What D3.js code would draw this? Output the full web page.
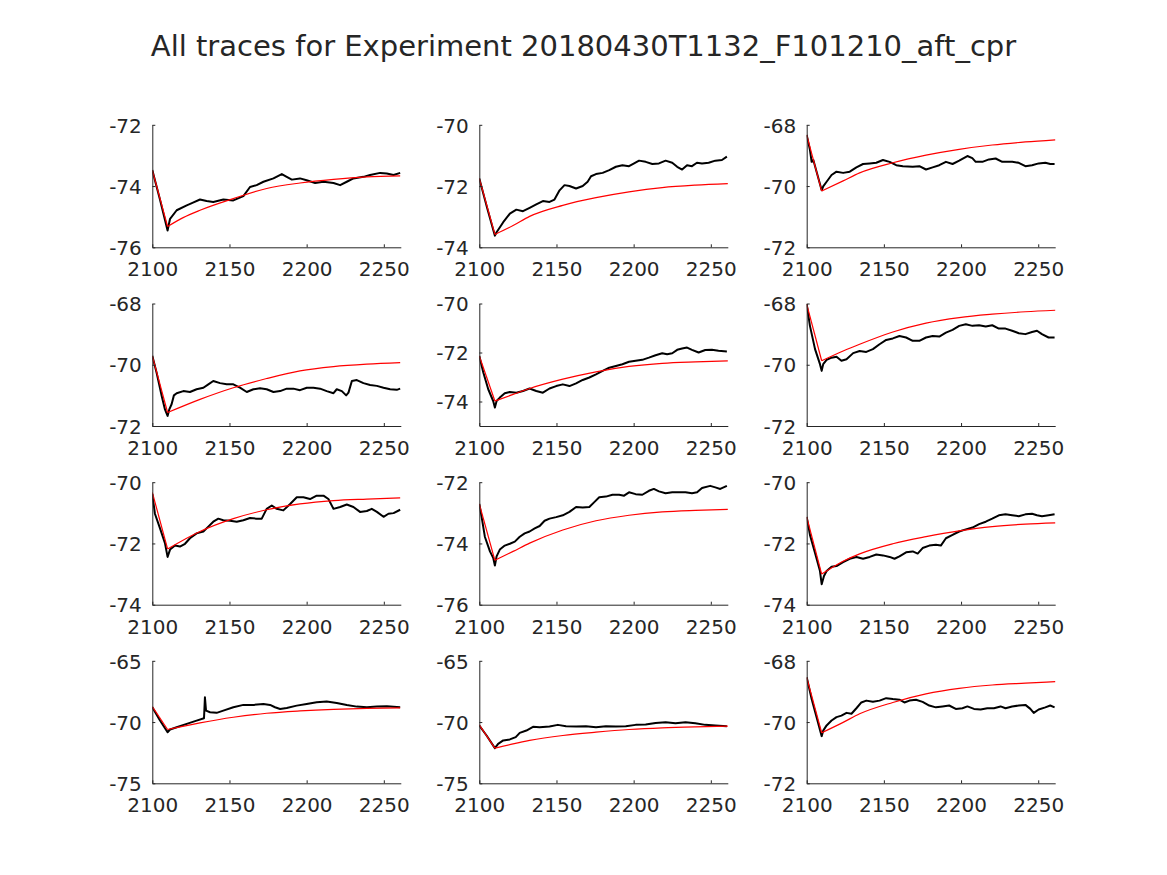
<!DOCTYPE html>
<html>
<head>
<meta charset="utf-8">
<script src="https://cdn.jsdelivr.net/npm/d3@7"></script>
<style>
  html, body { margin: 0; padding: 0; background: #fff; }
  svg { display: block; }
  text { font-family: "DejaVu Sans", sans-serif; fill: #262626; }
</style>
</head>
<body>
<script>
// ---------------- data ----------------
const chartTitle = "All traces for Experiment 20180430T1132_F101210_aft_cpr";
const xDomain = [2100, 2261];
const xTicks = [2100, 2150, 2200, 2250];

const yDomains = [
  [-76, -72], [-74, -70], [-72, -68],
  [-72, -68], [-75, -70], [-72, -68],
  [-74, -70], [-76, -72], [-74, -70],
  [-75, -65], [-75, -65], [-72, -68]
];
const yTicks = [
  [-76, -74, -72], [-74, -72, -70], [-72, -70, -68],
  [-72, -70, -68], [-74, -72, -70], [-72, -70, -68],
  [-74, -72, -70], [-76, -74, -72], [-74, -72, -70],
  [-75, -70, -65], [-75, -70, -65], [-72, -70, -68]
];

// measured traces (black)
const trace1 = [[2100,-73.48],[2105,-74.45],[2109.9,-75.45],[2111.5,-75.07],[2115.8,-74.79],[2122.3,-74.63],[2126,-74.55],[2130.9,-74.44],[2135.2,-74.49],[2139.5,-74.52],[2146,-74.44],[2152.5,-74.47],[2159,-74.33],[2163.3,-74.03],[2167.6,-73.97],[2172,-73.86],[2178.5,-73.75],[2183.9,-73.61],[2187.1,-73.70],[2190.4,-73.79],[2195.7,-73.75],[2200,-73.81],[2205.5,-73.90],[2210.9,-73.86],[2217.4,-73.90],[2221.7,-73.97],[2226,-73.86],[2230.3,-73.75],[2236.8,-73.70],[2241.1,-73.64],[2247.6,-73.57],[2251.9,-73.59],[2256.3,-73.64],[2260.6,-73.57]];
const trace2 = [[2100,-71.75],[2105,-72.70],[2110.1,-73.62],[2111.2,-73.51],[2115.5,-73.18],[2119.8,-72.90],[2124,-72.77],[2128.3,-72.82],[2132.6,-72.71],[2136.9,-72.60],[2141.2,-72.49],[2145.5,-72.52],[2148.7,-72.44],[2152,-72.14],[2155.2,-71.97],[2158.4,-72.00],[2162.7,-72.08],[2167,-72.00],[2170.2,-71.86],[2172.4,-71.68],[2175.6,-71.61],[2179.9,-71.57],[2184.2,-71.48],[2188.5,-71.37],[2192.7,-71.32],[2197,-71.35],[2200.3,-71.26],[2203.5,-71.17],[2207.8,-71.21],[2212.1,-71.28],[2216.4,-71.26],[2220.7,-71.17],[2225,-71.24],[2228.2,-71.37],[2231.4,-71.46],[2234.6,-71.32],[2237.8,-71.35],[2241,-71.24],[2244.3,-71.26],[2248.6,-71.24],[2252.9,-71.17],[2257.2,-71.15],[2260.4,-71.04]];
const trace3 = [[2100,-68.33],[2102.1,-68.82],[2103.2,-69.21],[2104.3,-69.15],[2106.4,-69.53],[2109.7,-70.14],[2110.7,-70.01],[2112.9,-69.86],[2116.1,-69.64],[2119.3,-69.53],[2123.6,-69.57],[2127.9,-69.53],[2132.2,-69.39],[2136.5,-69.28],[2140.8,-69.26],[2145.1,-69.24],[2149.4,-69.15],[2153.7,-69.21],[2158,-69.32],[2162.3,-69.35],[2168.7,-69.37],[2173,-69.35],[2177.3,-69.46],[2181.6,-69.39],[2185.9,-69.32],[2190.2,-69.21],[2194.5,-69.28],[2198.8,-69.17],[2204.1,-69.02],[2207.3,-69.09],[2209.5,-69.21],[2213.8,-69.21],[2218.1,-69.13],[2222.4,-69.10],[2226.7,-69.21],[2233.2,-69.21],[2237.4,-69.24],[2241.7,-69.35],[2246,-69.32],[2250.3,-69.26],[2254.6,-69.24],[2257.8,-69.28],[2260.6,-69.28]];
const trace4 = [[2100,-69.71],[2102.8,-70.26],[2106.1,-71.02],[2108.2,-71.46],[2109.9,-71.67],[2111,-71.46],[2112.5,-71.29],[2114,-71.00],[2115.8,-70.93],[2120.1,-70.86],[2124.4,-70.89],[2128.7,-70.80],[2133.1,-70.75],[2136.3,-70.64],[2139.5,-70.53],[2143.9,-70.60],[2148.2,-70.64],[2152.5,-70.64],[2156.8,-70.75],[2161.2,-70.89],[2165.5,-70.80],[2169.8,-70.77],[2174.1,-70.80],[2178.5,-70.89],[2182.8,-70.86],[2187.1,-70.78],[2191.4,-70.78],[2195.7,-70.83],[2200.1,-70.75],[2204.4,-70.75],[2208.7,-70.78],[2213,-70.86],[2217.4,-70.93],[2219.5,-70.80],[2222.8,-70.86],[2225.6,-71.00],[2227.1,-70.91],[2229.3,-70.53],[2232.5,-70.50],[2236.8,-70.60],[2241.1,-70.66],[2245.5,-70.69],[2249.8,-70.75],[2254.1,-70.80],[2258.4,-70.82],[2260.6,-70.78]];
const trace5 = [[2100,-72.14],[2102.6,-72.82],[2105.8,-73.50],[2109,-73.98],[2110.1,-74.25],[2111.2,-73.98],[2113.3,-73.84],[2116.5,-73.66],[2119.8,-73.61],[2124,-73.64],[2128.3,-73.57],[2132.6,-73.47],[2136.9,-73.57],[2141.2,-73.64],[2145.5,-73.47],[2149.8,-73.37],[2154.1,-73.30],[2158.4,-73.37],[2162.7,-73.26],[2167,-73.12],[2171.3,-73.02],[2175.6,-72.89],[2179.9,-72.75],[2184.2,-72.62],[2188.5,-72.55],[2192.7,-72.48],[2197,-72.38],[2201.3,-72.34],[2205.6,-72.30],[2209.9,-72.21],[2214.2,-72.11],[2218.5,-72.03],[2221.7,-72.07],[2225,-72.03],[2228.2,-71.89],[2231.4,-71.84],[2234.6,-71.80],[2237.8,-71.89],[2242.1,-72.00],[2246.4,-71.90],[2250.7,-71.89],[2255,-71.93],[2260.4,-71.96]];
const trace6 = [[2100,-68.02],[2102.1,-68.73],[2105.4,-69.49],[2108.6,-69.98],[2109.7,-70.20],[2110.7,-69.98],[2112.9,-69.84],[2116.1,-69.77],[2119.3,-69.74],[2122.5,-69.87],[2125.8,-69.82],[2130.1,-69.62],[2134.3,-69.55],[2138.6,-69.58],[2142.9,-69.49],[2147.2,-69.33],[2151.5,-69.19],[2155.8,-69.14],[2160.1,-69.06],[2164.4,-69.11],[2168.7,-69.22],[2173,-69.22],[2177.3,-69.11],[2181.6,-69.06],[2185.9,-69.08],[2190.2,-68.95],[2194.5,-68.86],[2198.8,-68.73],[2203.1,-68.68],[2207.4,-68.73],[2211.7,-68.71],[2216,-68.75],[2220.2,-68.71],[2224.5,-68.82],[2228.8,-68.82],[2233.1,-68.89],[2237.4,-68.97],[2241.7,-69.00],[2246,-68.93],[2249.2,-68.89],[2252.4,-69.00],[2256.7,-69.11],[2260.6,-69.11]];
const trace7 = [[2100,-70.39],[2101.7,-71.03],[2105,-71.51],[2108.2,-71.99],[2109.9,-72.44],[2111.5,-72.20],[2114.7,-72.07],[2117.9,-72.10],[2121.2,-72.01],[2124.4,-71.83],[2128.7,-71.67],[2133.1,-71.61],[2136.3,-71.45],[2139.5,-71.29],[2142.8,-71.19],[2146,-71.24],[2150.4,-71.26],[2154.7,-71.29],[2159,-71.24],[2163.3,-71.17],[2167.6,-71.19],[2170.9,-71.19],[2174.1,-70.87],[2177.4,-70.76],[2180.6,-70.87],[2184.9,-70.92],[2189.3,-70.71],[2193.6,-70.49],[2197.9,-70.49],[2202.2,-70.55],[2206.5,-70.44],[2210.9,-70.44],[2214.1,-70.55],[2217.4,-70.87],[2221.7,-70.81],[2226,-70.73],[2230.3,-70.81],[2234.6,-70.97],[2239,-70.94],[2242.2,-70.87],[2245.5,-70.97],[2249.8,-71.13],[2253,-71.03],[2256.3,-71.01],[2260.6,-70.90]];
const trace8 = [[2100,-72.71],[2101.5,-73.13],[2103.6,-73.78],[2106.9,-74.26],[2109,-74.47],[2110.1,-74.72],[2111.2,-74.42],[2113.3,-74.20],[2116.5,-74.07],[2119.8,-74.01],[2123,-73.94],[2126.2,-73.78],[2129.4,-73.67],[2132.6,-73.61],[2135.9,-73.51],[2139.1,-73.43],[2142.3,-73.26],[2145.5,-73.19],[2149.8,-73.14],[2154.1,-73.08],[2158.4,-72.97],[2162.7,-72.81],[2167,-72.83],[2171.3,-72.81],[2174.5,-72.65],[2177.7,-72.49],[2182,-72.47],[2186.3,-72.41],[2190.6,-72.41],[2193.8,-72.44],[2197,-72.33],[2201.3,-72.39],[2205.6,-72.41],[2209.9,-72.28],[2213.1,-72.22],[2216.4,-72.30],[2220.7,-72.36],[2225,-72.33],[2229.3,-72.33],[2233.6,-72.33],[2237.8,-72.36],[2241.1,-72.33],[2244.3,-72.19],[2249.6,-72.12],[2252.9,-72.17],[2256.1,-72.22],[2260.4,-72.12]];
const trace9 = [[2100,-71.13],[2102.1,-71.72],[2105.4,-72.31],[2108.6,-72.90],[2109.7,-73.33],[2111.2,-73.06],[2112.9,-72.90],[2116.1,-72.76],[2119.3,-72.74],[2123.6,-72.61],[2127.9,-72.50],[2132.2,-72.44],[2136.5,-72.50],[2140.8,-72.44],[2145.1,-72.36],[2149.4,-72.39],[2153.7,-72.44],[2156.9,-72.50],[2160.1,-72.42],[2164.4,-72.29],[2168.7,-72.26],[2171.9,-72.33],[2175.1,-72.15],[2179.4,-72.07],[2183.7,-72.04],[2186.9,-72.07],[2190.2,-71.83],[2194.5,-71.72],[2198.8,-71.61],[2203.1,-71.54],[2207.4,-71.48],[2211.7,-71.37],[2216,-71.29],[2220.2,-71.19],[2224.5,-71.08],[2228.8,-71.05],[2233.1,-71.08],[2237.4,-71.11],[2241.7,-71.05],[2246,-71.03],[2249.2,-71.08],[2252.4,-71.11],[2256.7,-71.08],[2260.6,-71.05]];
const trace10 = [[2100,-68.79],[2105,-69.88],[2109.9,-70.83],[2111.5,-70.61],[2115.8,-70.42],[2122.3,-70.15],[2128.7,-69.88],[2133.5,-69.69],[2134.1,-67.98],[2134.8,-69.07],[2137.4,-69.20],[2141.7,-69.25],[2146,-69.07],[2152.5,-68.79],[2159,-68.60],[2165.5,-68.60],[2172,-68.52],[2176.3,-68.60],[2179.5,-68.79],[2182.8,-68.93],[2187.1,-68.85],[2193.6,-68.66],[2200,-68.52],[2206.5,-68.39],[2213,-68.33],[2219.5,-68.44],[2226,-68.60],[2232.5,-68.74],[2239,-68.79],[2245.5,-68.74],[2252,-68.71],[2260.6,-68.79]];
const trace11 = [[2100,-70.28],[2104.7,-71.10],[2110.1,-72.13],[2112.2,-71.78],[2115.5,-71.50],[2119.8,-71.42],[2123.6,-71.23],[2126.2,-70.88],[2130.5,-70.69],[2134.8,-70.39],[2139.1,-70.42],[2145.5,-70.37],[2150.9,-70.23],[2156.2,-70.34],[2162.7,-70.37],[2169.1,-70.34],[2175.6,-70.42],[2182,-70.34],[2188.5,-70.37],[2194.9,-70.34],[2201.3,-70.23],[2207.8,-70.20],[2214.2,-70.07],[2220.7,-70.01],[2227.1,-70.10],[2233.6,-70.01],[2240,-70.10],[2246.4,-70.23],[2252.9,-70.28],[2260.4,-70.34]];
const trace12 = [[2100,-68.54],[2103.2,-69.25],[2106.4,-69.84],[2109.7,-70.46],[2110.7,-70.28],[2112.9,-70.11],[2116.1,-69.95],[2119.3,-69.84],[2122.5,-69.79],[2125.8,-69.70],[2129,-69.73],[2132.2,-69.55],[2135.4,-69.36],[2138.6,-69.30],[2142.9,-69.34],[2147.2,-69.30],[2151.5,-69.22],[2155.8,-69.25],[2160.1,-69.27],[2163.3,-69.36],[2166.6,-69.30],[2170.8,-69.27],[2175.1,-69.34],[2179.4,-69.46],[2183.7,-69.52],[2188,-69.49],[2192.3,-69.46],[2196.6,-69.57],[2200.9,-69.55],[2204.1,-69.49],[2208.4,-69.57],[2212.7,-69.59],[2217,-69.55],[2221.3,-69.55],[2225.6,-69.49],[2228.8,-69.55],[2233.1,-69.49],[2237.4,-69.46],[2241.7,-69.44],[2244.9,-69.57],[2247.1,-69.70],[2250.3,-69.59],[2254.6,-69.52],[2257.8,-69.46],[2260.6,-69.52]];

// fitted curves (red)
const fit1 = [[2100,-73.48],[2109.9,-75.32],[2120,-75.03],[2130.9,-74.79],[2152.5,-74.41],[2174.1,-74.08],[2195.7,-73.90],[2217.4,-73.78],[2239,-73.70],[2260.6,-73.67]];
const fit2 = [[2100,-71.75],[2110.1,-73.58],[2121.9,-73.29],[2132.6,-72.99],[2154.1,-72.63],[2175.6,-72.38],[2197,-72.19],[2218.5,-72.05],[2240,-71.97],[2261,-71.92]];
const fit3 = [[2100,-68.33],[2109.7,-70.16],[2123.6,-69.83],[2134.3,-69.57],[2155.8,-69.24],[2177.3,-68.99],[2198.8,-68.80],[2220.2,-68.66],[2241.7,-68.56],[2261,-68.49]];
const fit4 = [[2100,-69.71],[2109.9,-71.56],[2130.9,-71.13],[2152.5,-70.75],[2174.1,-70.45],[2195.7,-70.20],[2217.4,-70.06],[2239,-69.98],[2260.6,-69.93]];
const fit5 = [[2100,-72.14],[2110.1,-73.98],[2121.9,-73.71],[2132.6,-73.47],[2154.1,-73.09],[2175.6,-72.79],[2197,-72.57],[2218.5,-72.44],[2240,-72.38],[2261,-72.34]];
const fit6 = [[2100,-68.02],[2109.7,-69.87],[2123.6,-69.55],[2134.3,-69.33],[2155.8,-68.93],[2177.3,-68.64],[2198.8,-68.46],[2220.2,-68.35],[2241.7,-68.27],[2261,-68.22]];
const fit7 = [[2100,-70.33],[2109.9,-72.18],[2130.9,-71.61],[2152.5,-71.19],[2174.1,-70.90],[2195.7,-70.71],[2217.4,-70.60],[2239,-70.55],[2260.6,-70.51]];
const fit8 = [[2100,-72.71],[2110.1,-74.55],[2121.9,-74.26],[2132.6,-73.99],[2154.1,-73.56],[2175.6,-73.26],[2197,-73.08],[2218.5,-72.97],[2240,-72.92],[2261,-72.89]];
const fit9 = [[2100,-71.13],[2109.7,-73.00],[2123.6,-72.58],[2134.3,-72.34],[2155.8,-72.01],[2177.3,-71.78],[2198.8,-71.59],[2220.2,-71.45],[2241.7,-71.37],[2261,-71.33]];
const fit10 = [[2100,-68.74],[2109.9,-70.61],[2130.9,-70.07],[2152.5,-69.61],[2174.1,-69.28],[2195.7,-69.09],[2217.4,-68.96],[2239,-68.88],[2260.6,-68.85]];
const fit11 = [[2100,-70.23],[2110.1,-72.13],[2121.9,-71.78],[2132.6,-71.50],[2154.1,-71.10],[2175.6,-70.83],[2197,-70.61],[2218.5,-70.47],[2240,-70.39],[2261,-70.34]];
const fit12 = [[2100,-68.54],[2109.7,-70.35],[2123.6,-70.01],[2134.3,-69.73],[2155.8,-69.36],[2177.3,-69.08],[2198.8,-68.90],[2220.2,-68.79],[2241.7,-68.73],[2261,-68.68]];

const traces = [trace1, trace2, trace3, trace4, trace5, trace6, trace7, trace8, trace9, trace10, trace11, trace12];
const fits = [fit1, fit2, fit3, fit4, fit5, fit6, fit7, fit8, fit9, fit10, fit11, fit12];

// ---------------- layout ----------------
const W = 1167, H = 875;
const colLeft = [152.3, 479.3, 806.7];
const rowTop = [124.8, 303.5, 482.2, 660.8];
const pw = 248.5, ph = 122.5;
const axisColor = "#262626";

const svg = d3.select("body").append("svg")
  .attr("width", W).attr("height", H)
  .attr("viewBox", `0 0 ${W} ${H}`);

svg.append("rect").attr("width", W).attr("height", H).attr("fill", "#fff");

svg.append("text")
  .attr("x", 583.5).attr("y", 56)
  .attr("text-anchor", "middle")
  .style("font-size", "29px")
  .text(chartTitle);

traces.forEach((tr, i) => {
  const r = Math.floor(i / 3), c = i % 3;
  const g = svg.append("g").attr("transform", `translate(${colLeft[c]},${rowTop[r]})`);
  const x = d3.scaleLinear().domain(xDomain).range([0, pw]);
  const y = d3.scaleLinear().domain(yDomains[i]).range([ph, 0]);

  const clipId = "clip" + i;
  g.append("clipPath").attr("id", clipId)
    .append("rect").attr("x", 0).attr("y", -2).attr("width", pw + 1).attr("height", ph + 4);

  const plot = g.append("g").attr("clip-path", `url(#${clipId})`);

  const lin = d3.line().x(d => x(d[0])).y(d => y(d[1]));
  const smooth = d3.line().x(d => x(d[0])).y(d => y(d[1])).curve(d3.curveMonotoneX);

  plot.append("path").datum(tr)
    .attr("fill", "none").attr("stroke", "#000")
    .attr("stroke-width", 2).attr("stroke-linejoin", "round")
    .attr("d", lin);

  const f = fits[i];
  plot.append("path").datum(f.slice(0, 2))
    .attr("fill", "none").attr("stroke", "#ff0000").attr("stroke-width", 1.2)
    .attr("d", lin);
  plot.append("path").datum(f.slice(1))
    .attr("fill", "none").attr("stroke", "#ff0000").attr("stroke-width", 1.2)
    .attr("d", smooth);

  // axes
  const xAxis = d3.axisBottom(x).tickValues(xTicks).tickSize(-3).tickSizeOuter(0).tickPadding(10).tickFormat(d3.format("d"));
  const yAxis = d3.axisLeft(y).tickValues(yTicks[i]).tickSize(-3).tickSizeOuter(0).tickPadding(10).tickFormat(d => String(d));

  const gx = g.append("g").attr("transform", `translate(0,${ph})`).call(xAxis);
  const gy = g.append("g").call(yAxis);

  [gx, gy].forEach(a => {
    a.select(".domain").attr("stroke", axisColor).attr("stroke-width", 1);
    a.selectAll(".tick line").attr("stroke", axisColor);
    a.selectAll(".tick text")
      .style("font-family", "'DejaVu Sans', sans-serif")
      .style("font-size", "20px")
      .attr("fill", axisColor);
  });
  gx.selectAll(".tick text").attr("dy", null).attr("y", 29);
  gy.selectAll(".tick text").attr("dy", "0.36em").attr("x", -10.5);
});
</script>
</body>
</html>
